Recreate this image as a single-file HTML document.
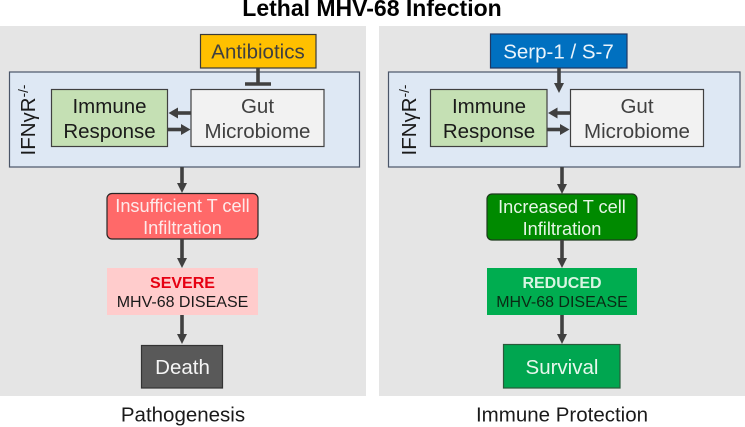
<!DOCTYPE html>
<html>
<head>
<meta charset="utf-8">
<style>
html,body{margin:0;padding:0;background:#fff;width:745px;height:427px;overflow:hidden}
svg{display:block;filter:blur(0.3px)}
text{font-family:"Liberation Sans",sans-serif;text-anchor:middle}
</style>
</head>
<body>
<svg width="745" height="427" viewBox="0 0 745 427" xmlns="http://www.w3.org/2000/svg">
<text x="372" y="16" font-size="23" font-weight="bold" fill="#000">Lethal MHV-68 Infection</text>

<rect x="0" y="26" width="366" height="370" fill="#e5e5e5"/>
<rect x="379" y="26" width="366" height="370" fill="#e5e5e5"/>

<!-- Left panel -->
<rect x="9.5" y="72" width="350" height="95" fill="#deE8f4" stroke="#4a5568" stroke-width="1.2"/>
<rect x="200.5" y="34.5" width="115.5" height="33.5" fill="#ffc000" stroke="#3a3a3a" stroke-width="1.2"/>
<text x="258" y="58.5" font-size="20.5" fill="#404040">Antibiotics</text>
<path d="M258 68V84" stroke="#404040" stroke-width="3.6"/>
<path d="M245 84H271" stroke="#404040" stroke-width="3.6"/>
<rect x="51.5" y="89.5" width="116" height="57" fill="#c5e0b4" stroke="#404040" stroke-width="1.2"/>
<text x="109.500" y="113" font-size="20.5" fill="#1a1a1a">Immune</text>
<text x="109.500" y="138" font-size="20.5" fill="#1a1a1a">Response</text>
<rect x="191" y="89.5" width="133" height="57" fill="#f2f2f2" stroke="#404040" stroke-width="1.2"/>
<text x="257.5" y="113" font-size="20.5" fill="#404040">Gut</text>
<text x="257.5" y="138" font-size="20.5" fill="#404040">Microbiome</text>
<path d="M191 113H176" stroke="#404040" stroke-width="3.6"/><path d="M168.5 113L178 107.500V118.500Z" fill="#404040"/>
<path d="M168 129.500H182" stroke="#404040" stroke-width="3.6"/><path d="M190.500 129.500L181 124V135Z" fill="#404040"/>
<text transform="translate(35 155.500) rotate(-90)" style="text-anchor:start" font-size="20.5" fill="#1a1a1a">IFNγR<tspan font-size="13.5" dy="-7">-/-</tspan></text>
<path d="M182 167V185" stroke="#404040" stroke-width="3.6"/><path d="M177 183H187L182 193Z" fill="#404040"/>
<rect x="107" y="193.500" width="151" height="45.5" rx="5" fill="#ff6969" stroke="#262626" stroke-width="1.2"/>
<text x="182.500" y="212" font-size="18.2" fill="#fdeaea">Insufficient T cell</text>
<text x="182.500" y="234" font-size="18.2" fill="#fdeaea">Infiltration</text>
<path d="M182 239V260" stroke="#404040" stroke-width="3.6"/><path d="M177 258H187L182 268Z" fill="#404040"/>
<rect x="107" y="268" width="151" height="47" fill="#ffcccc"/>
<text x="182.500" y="288" font-size="16" font-weight="bold" fill="#e60012">SEVERE</text>
<text x="182.500" y="307" font-size="16" fill="#1a1a1a">MHV-68 DISEASE</text>
<path d="M182 315V336" stroke="#404040" stroke-width="3.6"/><path d="M177 334H187L182 344Z" fill="#404040"/>
<rect x="141.500" y="345.500" width="81" height="42.5" fill="#595959" stroke="#333" stroke-width="1.2"/>
<text x="182.500" y="374" font-size="20.5" fill="#f5f5f5">Death</text>
<text x="183" y="421.500" font-size="20.5" fill="#1a1a1a">Pathogenesis</text>

<!-- Right panel -->
<rect x="388.500" y="72" width="351.500" height="95" fill="#deE8f4" stroke="#4a5568" stroke-width="1.2"/>
<rect x="490.500" y="34" width="136.500" height="34" fill="#0070c0" stroke="#1f3864" stroke-width="1.2"/>
<text x="558.500" y="58.500" font-size="20.5" fill="#eaf4fb">Serp-1 / S-7</text>
<path d="M559 68V85" stroke="#404040" stroke-width="3.6"/><path d="M554 83H564L559 93Z" fill="#404040"/>
<rect x="430.500" y="89.500" width="116.500" height="57" fill="#c5e0b4" stroke="#404040" stroke-width="1.2"/>
<text x="489" y="113" font-size="20.5" fill="#1a1a1a">Immune</text>
<text x="489" y="138" font-size="20.5" fill="#1a1a1a">Response</text>
<rect x="570.500" y="89.500" width="133" height="57" fill="#f2f2f2" stroke="#404040" stroke-width="1.2"/>
<text x="637" y="113" font-size="20.5" fill="#404040">Gut</text>
<text x="637" y="138" font-size="20.5" fill="#404040">Microbiome</text>
<path d="M570 113H556" stroke="#404040" stroke-width="3.6"/><path d="M548 113L557.500 107.500V118.500Z" fill="#404040"/>
<path d="M547 129.500H561" stroke="#404040" stroke-width="3.6"/><path d="M569.500 129.500L560 124V135Z" fill="#404040"/>
<text transform="translate(416 155.500) rotate(-90)" style="text-anchor:start" font-size="20.5" fill="#1a1a1a">IFNγR<tspan font-size="13.5" dy="-7">-/-</tspan></text>
<path d="M562 167V186" stroke="#404040" stroke-width="3.6"/><path d="M557 184H567L562 194Z" fill="#404040"/>
<rect x="487" y="194" width="150" height="46" rx="5" fill="#008a00" stroke="#1c3a1c" stroke-width="1.2"/>
<text x="562" y="213" font-size="18.2" fill="#e6f5e6">Increased T cell</text>
<text x="562" y="235" font-size="18.2" fill="#e6f5e6">Infiltration</text>
<path d="M562 240V260" stroke="#404040" stroke-width="3.6"/><path d="M557 258H567L562 268Z" fill="#404040"/>
<rect x="487" y="268" width="150" height="47" fill="#00ad50"/>
<text x="562" y="288" font-size="16" font-weight="bold" fill="#d8f5e2">REDUCED</text>
<text x="562" y="307" font-size="16" fill="#0a2a14">MHV-68 DISEASE</text>
<path d="M562 315V336" stroke="#404040" stroke-width="3.6"/><path d="M557 334H567L562 344Z" fill="#404040"/>
<rect x="503.500" y="344.500" width="116.500" height="43.5" fill="#00a650" stroke="#2a5a3a" stroke-width="1.2"/>
<text x="562" y="374" font-size="20.5" fill="#e6f7ec">Survival</text>
<text x="562" y="421.500" font-size="20.5" fill="#1a1a1a">Immune Protection</text>
</svg>
</body>
</html>
